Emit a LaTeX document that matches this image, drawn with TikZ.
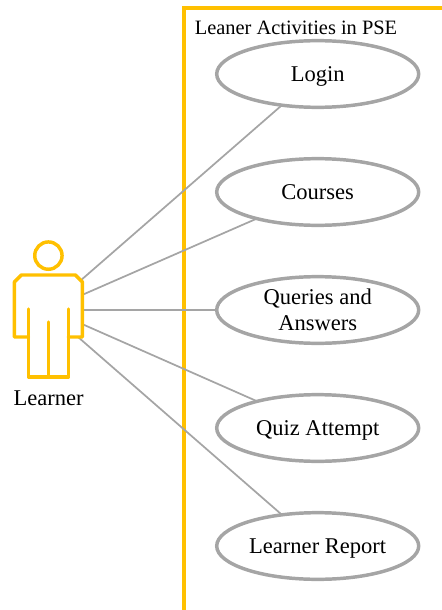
\documentclass[tikz,border=0pt]{standalone}
\usepackage{fontspec}
\setmainfont{Liberation Serif}
\usetikzlibrary{shapes.geometric}
\definecolor{actorgold}{HTML}{FFC000}
\definecolor{usegray}{HTML}{A5A5A5}
\tikzset{
  usecase/.style={ellipse,draw=usegray,line width=2.6pt,minimum width=151.5pt,minimum height=50pt,inner sep=0pt,outer sep=0pt,align=center,font=\fontsize{16.9pt}{19.5pt}\selectfont},
  oneline/.style={text height=14.5pt,text depth=3.5pt},
  link/.style={draw=usegray,line width=1.3pt},
  goldline/.style={draw=actorgold,line width=2.6pt,line join=round,line cap=round},
  caption/.style={inner sep=0pt,font=\fontsize{16.9pt}{18pt}\selectfont}
}
\begin{document}
\begin{tikzpicture}[x=0.75pt,y=-0.75pt]
\useasboundingbox (0,0) rectangle (442,610);
\draw[draw=actorgold,line width=3pt] (184,620) -- (184,8) -- (450,8);
\node[caption,font=\fontsize{15.3pt}{18pt}\selectfont] (title) at (296,28) {Leaner Activities in PSE};
\node[usecase,oneline] (login) at (317.7,74) {Login};
\node[usecase,oneline] (courses) at (317.7,192) {Courses};
\node[usecase] (queries) at (317.7,310) {Queries and\\Answers};
\node[usecase,oneline] (quiz) at (317.7,428) {Quiz Attempt};
\node[usecase,oneline] (report) at (317.7,546) {Learner Report};
\coordinate (a1) at (80,281);
\coordinate (a2) at (82,295);
\coordinate (a3) at (82,310);
\coordinate (a4) at (82,324);
\coordinate (a5) at (78,337);
\draw[link] (a1) -- (login);
\draw[link] (a2) -- (courses);
\draw[link] (a3) -- (queries);
\draw[link] (a4) -- (quiz);
\draw[link] (a5) -- (report);
\node[draw=actorgold,line width=2.6pt,circle,minimum size=20.5pt,inner sep=0pt] (head) at (48.4,255.6) {};
\draw[goldline] (28.4,309) -- (28.4,377) -- (68.4,377) -- (68.4,309);
\draw[goldline] (48.4,322) -- (48.4,377);
\draw[goldline] (28.4,337) -- (14.4,337) -- (14.4,282) -- (21.4,275) -- (75.4,275) -- (82.4,282) -- (82.4,337) -- (68.4,337);
\node[caption] (learner) at (48.6,398) {Learner};
\end{tikzpicture}
\end{document}
